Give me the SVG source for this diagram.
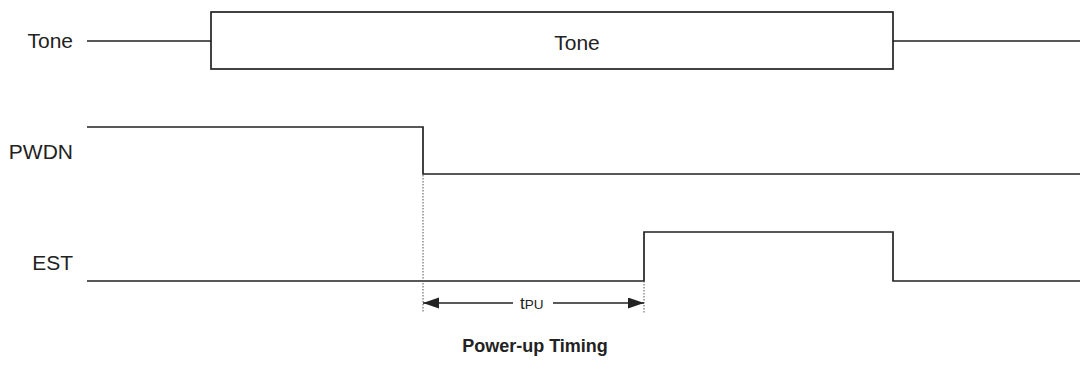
<svg xmlns="http://www.w3.org/2000/svg" width="1080" height="367" viewBox="0 0 1080 367">
<style>
.sig{fill:none;stroke:#222;stroke-width:1.7}
.dot{fill:none;stroke:#555;stroke-width:1;stroke-dasharray:1.5 1.5}
.lbl{font-family:"Liberation Sans",Arial,sans-serif;font-size:21px;fill:#222}
.ttl{font-family:"Liberation Sans",Arial,sans-serif;font-size:18px;font-weight:bold;fill:#222}
</style>
<defs>
<marker id="ah" markerWidth="17" markerHeight="12" refX="16" refY="5.5" orient="auto-start-reverse" markerUnits="userSpaceOnUse">
<path d="M0,0 L16,5.5 L0,11 Z" fill="#222"/>
</marker>
</defs>
<rect width="1080" height="367" fill="#fff"/>
<g id="tone">
<text class="lbl" x="73" y="48" text-anchor="end">Tone</text>
<path class="sig" d="M87,41 H211 M893,41 H1080"/>
<rect class="sig" x="211" y="12" width="682" height="57"/>
<text class="lbl" x="577" y="50" text-anchor="middle">Tone</text>
</g>
<g id="pwdn">
<text class="lbl" x="73" y="159" text-anchor="end">PWDN</text>
<path class="sig" d="M87,127 H423 V174 H1080"/>
</g>
<g id="est">
<text class="lbl" x="73" y="270" text-anchor="end">EST</text>
<path class="sig" d="M87,281 H644 V232 H893 V281 H1080"/>
</g>
<g id="connectors">
<path class="dot" d="M423,175 V313 M644,281 V313"/>
<path class="sig" d="M423,303 H513" marker-start="url(#ah)"/>
<path class="sig" d="M553,303 H644" marker-end="url(#ah)"/>
<text x="520" y="309" font-family="Liberation Sans,Arial,sans-serif" font-size="17" fill="#222">t<tspan font-size="13.5">PU</tspan></text>
</g>
<text class="ttl" x="535" y="352" text-anchor="middle">Power-up Timing</text>
</svg>
